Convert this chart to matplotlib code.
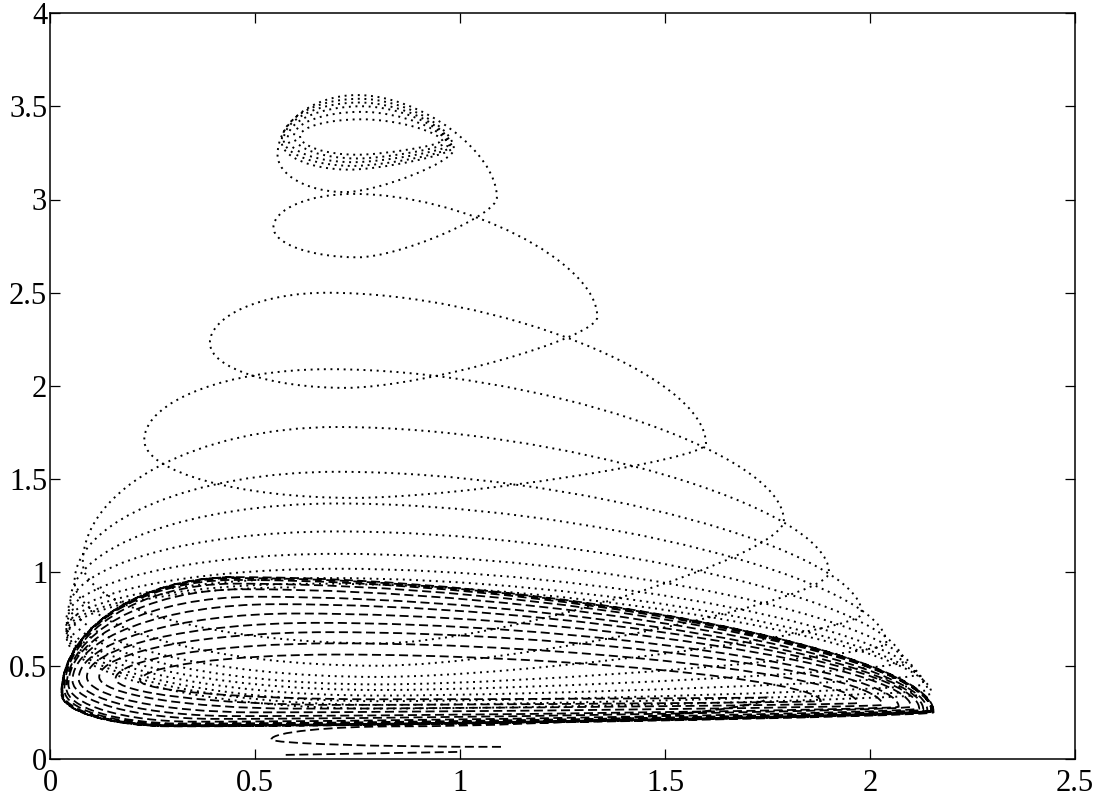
import matplotlib.pyplot as plt
from matplotlib.path import Path
from matplotlib.patches import PathPatch

# Dotted trajectory (starts at the upper focus), one row per turn:
# right tip, bottom, left side, top
dot_rx = [0.95, 0.96, 0.97, 0.975, 0.98, 0.985, 1.09, 1.335, 1.60, 1.79, 1.90, 1.98, 2.04, 2.08, 2.11, 2.13, 2.14, 2.15]
dot_ry = [3.31, 3.30, 3.29, 3.28, 3.275, 3.27, 3.01, 2.37, 1.69, 1.28, 1.00, 0.78, 0.62, 0.52, 0.45, 0.40, 0.37, 0.35]
dot_bx = [0.75, 0.75, 0.74, 0.74, 0.73, 0.72, 0.75, 0.72, 0.74, 0.80, 0.80, 0.80, 0.80, 0.80, 0.80, 0.80, 0.80, 0.80]
dot_by = [3.24, 3.22, 3.20, 3.18, 3.16, 3.04, 2.69, 1.99, 1.40, 0.62, 0.50, 0.44, 0.40, 0.37, 0.34, 0.31, 0.29, 0.27]
dot_lx = [0.61, 0.595, 0.58, 0.57, 0.565, 0.555, 0.545, 0.39, 0.23, 0.08, 0.06, 0.05, 0.045, 0.04, 0.04, 0.04, 0.04, 0.04]
dot_ly = [3.34, 3.34, 3.33, 3.32, 3.31, 3.24, 2.85, 2.23, 1.71, 1.05, 0.95, 0.85, 0.80, 0.75, 0.72, 0.70, 0.68, 0.66]
dot_tx = [0.76, 0.76, 0.76, 0.755, 0.755, 0.75, 0.74, 0.675, 0.68, 0.70, 0.70, 0.70, 0.70, 0.70, 0.70, 0.68, 0.65, 0.60]
dot_ty = [3.43, 3.47, 3.50, 3.52, 3.54, 3.56, 3.03, 2.50, 2.09, 1.78, 1.54, 1.37, 1.22, 1.10, 1.02, 0.97, 0.94, 0.92]

# Dashed trajectory: starts near the x axis, hairpin, then winds out to the cycle
dash_start_x = [1.10, 0.54, 0.85]
dash_start_y = [0.065, 0.105, 0.175]
dash_rx = [1.75, 1.88, 1.97, 2.03, 2.07, 2.10, 2.12, 2.13, 2.14, 2.15, 2.15, 2.155, 2.155]
dash_ry = [0.33, 0.31, 0.30, 0.29, 0.28, 0.28, 0.27, 0.265, 0.26, 0.26, 0.255, 0.255, 0.25]
dash_bx = [0.80, 0.70, 0.60, 0.50, 0.45, 0.40, 0.35, 0.32, 0.30, 0.30, 0.30, 0.30, 0.30]
dash_by = [0.32, 0.29, 0.27, 0.25, 0.23, 0.215, 0.20, 0.19, 0.185, 0.18, 0.178, 0.176, 0.175]
dash_lx = [0.22, 0.16, 0.12, 0.09, 0.07, 0.055, 0.045, 0.04, 0.035, 0.03, 0.03, 0.028, 0.028]
dash_ly = [0.42, 0.43, 0.44, 0.44, 0.43, 0.42, 0.40, 0.38, 0.37, 0.36, 0.35, 0.35, 0.35]
dash_tx = [0.70, 0.70, 0.68, 0.65, 0.60, 0.55, 0.50, 0.47, 0.45, 0.45, 0.45, 0.45, 0.45]
dash_ty = [0.56, 0.62, 0.68, 0.73, 0.78, 0.83, 0.87, 0.91, 0.94, 0.96, 0.97, 0.975, 0.975]

# short dashed piece lying on the x axis
low_x = [0.575, 1.00]
low_y = [0.022, 0.038]

x_ticks = [0, 0.5, 1, 1.5, 2, 2.5]
x_labels = ["0", "0.5", "1", "1.5", "2", "2.5"]
y_ticks = [0, 0.5, 1, 1.5, 2, 2.5, 3, 3.5, 4]
y_labels = ["0", "0.5", "1", "1.5", "2", "2.5", "3", "3.5", "4"]

# how far the bezier handles reach toward the corner, per segment type
K = {"TR": 0.45, "RB": 0.3, "BL": 0.55, "LT": 0.55}


def turns(rx, ry, bx, by, lx, ly, tx, ty):
    pts, kinds = [], []
    for i in range(len(rx)):
        pts += [(rx[i], ry[i]), (bx[i], by[i]), (lx[i], ly[i]), (tx[i], ty[i])]
        kinds += ["R", "B", "L", "T"]
    return pts, kinds


def spiral(pts, kinds):
    verts = [pts[0]]
    codes = [Path.MOVETO]
    for i in range(1, len(pts)):
        p, q = pts[i - 1], pts[i]
        a, b = kinds[i - 1], kinds[i]
        if a in "TB":
            c = (q[0], p[1])
        else:
            c = (p[0], q[1])
        k = K[a + b]
        verts += [(p[0] + k * (c[0] - p[0]), p[1] + k * (c[1] - p[1])),
                  (q[0] + k * (c[0] - q[0]), q[1] + k * (c[1] - q[1])),
                  q]
        codes += [Path.CURVE4] * 3
    return Path(verts, codes)


plt.rcParams["font.family"] = ["Liberation Serif", "DejaVu Serif"]

fig = plt.figure(figsize=(10.94, 7.98), dpi=100)
ax = fig.add_axes([0.0457, 0.0489, 0.9369, 0.9348])

pts, kinds = turns(dot_rx, dot_ry, dot_bx, dot_by, dot_lx, dot_ly, dot_tx, dot_ty)
ax.add_patch(PathPatch(spiral(pts, kinds), fill=False, ec="black",
                       lw=1.4, ls=(0, (1, 2.4))))

pts, kinds = turns(dash_rx, dash_ry, dash_bx, dash_by, dash_lx, dash_ly, dash_tx, dash_ty)
start = list(zip(dash_start_x, dash_start_y))
ax.add_patch(PathPatch(spiral(start + pts, ["B", "L", "T"] + kinds), fill=False,
                       ec="black", lw=1.3, ls=(0, (5, 2.5))))

ax.plot(low_x, low_y, color="black", lw=1.3, ls=(0, (5, 2.5)))

ax.set_xlim(0, 2.5)
ax.set_ylim(0, 4)
ax.set_xticks(x_ticks)
ax.set_xticklabels(x_labels)
ax.set_yticks(y_ticks)
ax.set_yticklabels(y_labels)
ax.tick_params(direction="in", top=True, right=True, length=7, width=0.9,
               labelsize=22, colors="black")
ax.tick_params(axis="x", pad=7)
ax.tick_params(axis="y", pad=2)
for s in ax.spines.values():
    s.set_linewidth(1.1)

fig.savefig("out.png", dpi=100)
plt.close()
